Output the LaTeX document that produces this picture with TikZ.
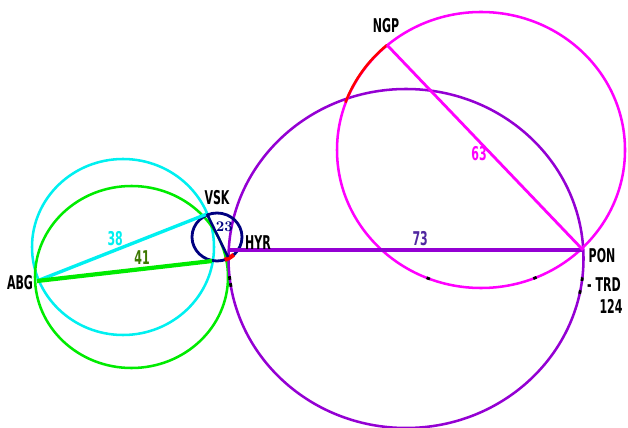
\documentclass[tikz,border=0pt]{standalone}
\usepackage{fontspec}
\newfontfamily\lblfont{DejaVu Sans}[FakeStretch=0.58]
\definecolor{purp}{RGB}{148,0,211}
\definecolor{dpurp}{RGB}{80,40,160}
\definecolor{grn}{RGB}{0,235,0}
\definecolor{dgrn}{RGB}{60,120,0}
\definecolor{cyn}{RGB}{0,240,240}
\definecolor{mag}{RGB}{255,0,255}
\definecolor{nvy}{RGB}{0,0,128}
\begin{document}
\begin{tikzpicture}[
    x=0.025cm, y=0.025cm,
    station/.style={font=\lblfont\bfseries\fontsize{13.5}{15}\selectfont, inner sep=1pt},
    dist/.style={font=\lblfont\bfseries\fontsize{13.5}{15}\selectfont, inner sep=2pt},
    ring/.style={draw, line width=1.8pt},
    line/.style={draw, line width=2.4pt},
    tick/.style={draw=black, line width=2pt}
]
    \useasboundingbox (0,0) rectangle (628,427);

    \coordinate (ABG) at (37,146);
    \coordinate (VSK) at (207,213);
    \coordinate (HYR) at (229,177);
    \coordinate (PON) at (583,177);
    \coordinate (NGP) at (387,382);
    \coordinate (g41) at (212,166);
    \coordinate (h23) at (228,170);

    \draw [ring, cyn] (123,180) ellipse [x radius=91, y radius=88];
    \draw [ring, grn] (131.5,150) ellipse [x radius=96.5, y radius=91];
    \draw [ring, purp] (406,168.5) ellipse [x radius=177.5, y radius=169.5];
    \draw [ring, mag] (481,277) ellipse [x radius=144, y radius=138];
    \draw [ring, nvy, line width=2pt] (217,190) ellipse [x radius=25, y radius=24];

    \draw [ring, red] (NGP) arc [start angle=130.6, end angle=160, x radius=144, y radius=138];
    \draw [ring, red, line width=3pt] (217,190) ++(-72:25 and 24) arc [start angle=-72, end angle=-48, x radius=25, y radius=24];
    \foreach \a in {-111.5, -68}
        \draw [tick] (481,277) ++(\a-0.7:144 and 138) arc [start angle=\a-0.7, end angle=\a+0.7, x radius=144, y radius=138];
    \foreach \a in {-7, -11.4, -171, -173.4}
        \draw [tick] (406,168.5) ++(\a-0.6:177.5 and 169.5) arc [start angle=\a-0.6, end angle=\a+0.6, x radius=177.5, y radius=169.5];

    \draw [line, purp] (HYR) -- (PON) node [dist, text=dpurp, pos=0.54, above] {73};
    \draw [line, mag, line width=2pt] (NGP) -- (PON) node [dist, text=mag, pos=0.53, left] {63};
    \draw [line, cyn] (ABG) -- (VSK) node [dist, text=cyn, pos=0.46, above] {38};
    \draw [line, grn, line width=3pt] (ABG) -- (g41) node [dist, text=dgrn, pos=0.6, above] {41};
    \draw [line, nvy, line width=1.8pt] (VSK) -- (h23) node [pos=0.3, right, inner sep=1pt, text=nvy, font=\bfseries\fontsize{10.5}{12}\selectfont] {23};

    \node [station] (ngp_l) at (386,401) {NGP};
    \node [station] (pon_l) at (602,171) {PON};
    \node [station] (trd_l) at (604,142) {- TRD};
    \node [station] (n124) at (611,121) {124};
    \node [station] (hyr_l) at (258,184) {HYR};
    \node [station] (vsk_l) at (217,229) {VSK};
    \node [station] (abg_l) at (20,144) {ABG};
\end{tikzpicture}
\end{document}
